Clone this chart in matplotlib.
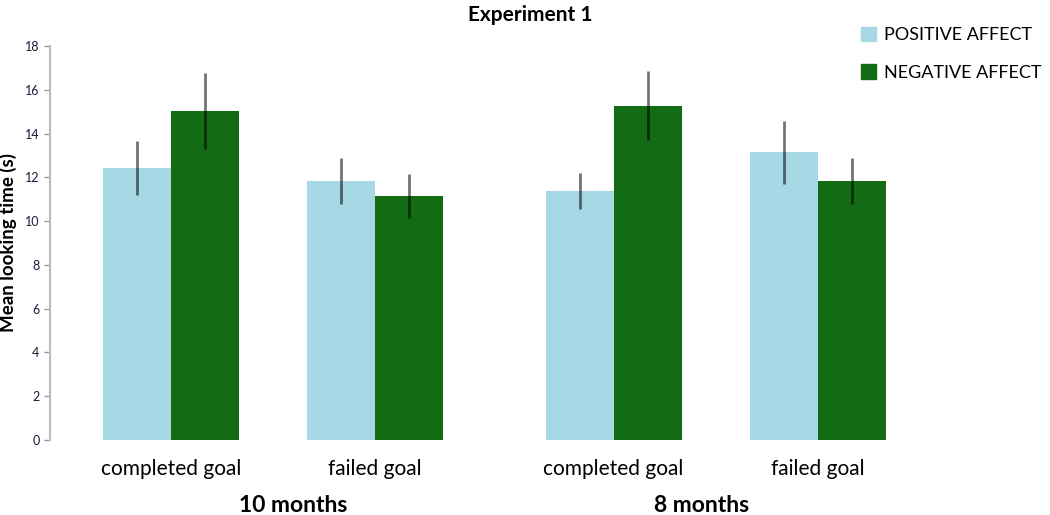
import numpy as np
import matplotlib.pyplot as plt
from matplotlib.patches import Patch

plt.rcParams['font.family'] = ['Lato', 'DejaVu Sans']

# data
conditions = ['completed goal', 'failed goal', 'completed goal', 'failed goal']
ages = ['10 months', '8 months']
positive = [12.43, 11.84, 11.38, 13.14]
positive_err = [1.22, 1.05, 0.83, 1.44]
negative = [15.02, 11.13, 15.28, 11.84]
negative_err = [1.73, 1.00, 1.58, 1.06]

blue = '#A6D8E5'
green = '#136B13'

fig = plt.figure(figsize=(10.5, 5.15), dpi=100)
ax = fig.add_axes([50 / 1050, 75 / 515, 890 / 1050, 394 / 515])

# group centres, extra gap between the two age groups
x = np.array([0, 1, 2.17, 3.17])
w = 68 / 204

ax.bar(x - w / 2, positive, w, color=blue, label='POSITIVE AFFECT')
ax.bar(x + w / 2, negative, w, color=green, label='NEGATIVE AFFECT')
ax.errorbar(x - w / 2, positive, yerr=positive_err, fmt='none', ecolor='black',
            elinewidth=2, alpha=0.55, capsize=0)
ax.errorbar(x + w / 2, negative, yerr=negative_err, fmt='none', ecolor='black',
            elinewidth=2, alpha=0.55, capsize=0)

ax.set_xlim(-0.593, 3.77)
ax.set_ylim(0, 18)
ax.set_yticks(range(0, 19, 2))
ax.tick_params(axis='y', labelsize=9, colors='#999999', labelcolor='#1a1a3a',
               length=4, width=1)
ax.set_xticks(x)
ax.set_xticklabels(conditions, fontsize=15)
ax.tick_params(axis='x', length=0, pad=14)
for s in ['top', 'right', 'bottom']:
    ax.spines[s].set_visible(False)
ax.spines['left'].set_color('#bbbbbb')
ax.spines['left'].set_linewidth(1.5)

ax.set_ylabel('Mean looking time (s)', fontsize=13.5, fontweight='bold', labelpad=6)

# age group labels, placed under each pair of conditions
age_x = [0.6, 2.6]
for cx, age in zip(age_x, ages):
    ax.text(cx, -3.0, age, ha='center', va='center', fontsize=16.5,
            fontweight='bold')

fig.text(530 / 1050, 1 - 15 / 515, 'Experiment 1', ha='center', va='center',
         fontsize=15, fontweight='bold')

handles = [Patch(color=blue), Patch(color=green)]
fig.legend(handles, ['POSITIVE AFFECT', 'NEGATIVE AFFECT'], loc='upper left',
           bbox_to_anchor=(861 / 1050, 1 - 27 / 515), frameon=False, fontsize=13,
           handlelength=0.85, handleheight=0.85, handletextpad=0.45,
           labelspacing=1.15, borderpad=0, borderaxespad=0)

fig.savefig('out.png', dpi=100)
